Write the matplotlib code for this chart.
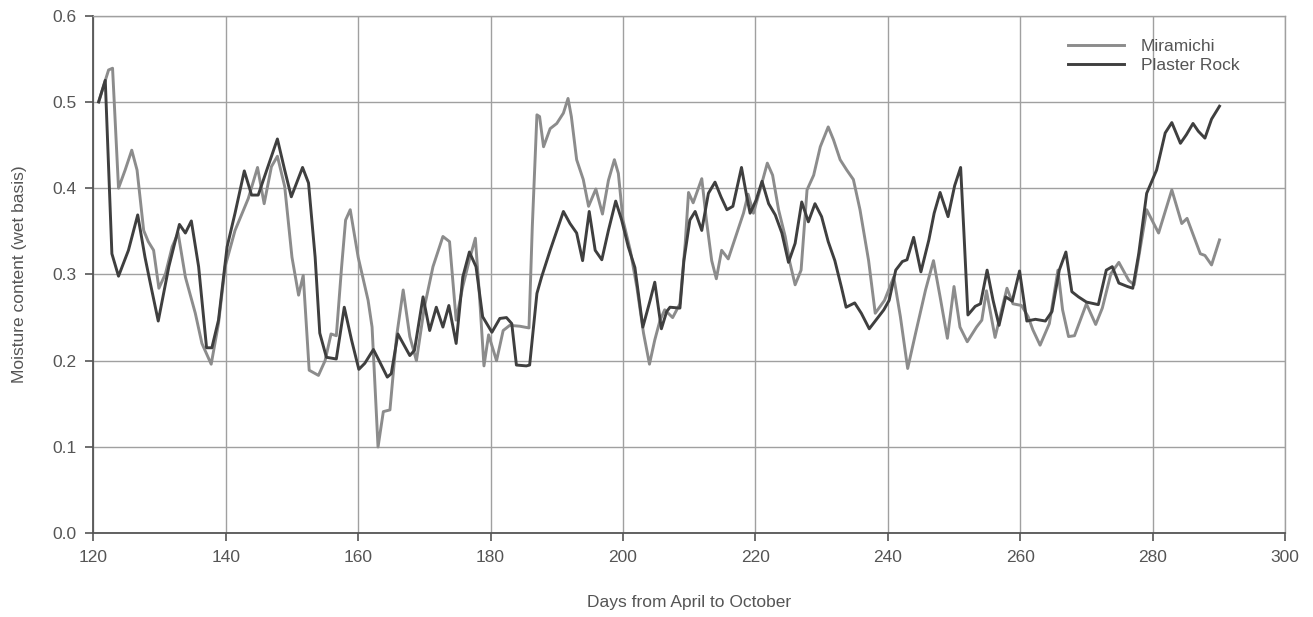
import numpy as np
import matplotlib
matplotlib.use('Agg')
from matplotlib import pyplot as plt
from matplotlib import font_manager

names = {f.name for f in font_manager.fontManager.ttflist}
narrow = 'Liberation Sans Narrow' in names
print('narrow installed:', narrow)
plt.rcParams['font.family'] = ['Liberation Sans Narrow', 'Liberation Sans', 'DejaVu Sans']

# Miramichi (light grey line)
mir_days = [120.8, 122.3, 122.9, 123.8, 124.8, 125.8, 126.6, 127.6, 128.3, 129.1,
            129.9, 130.9, 131.9, 132.8, 133.9, 135.4, 136.4, 137.8, 138.9, 139.9,
            141.4, 143.4, 144.8, 145.8, 146.9, 147.8, 148.9, 150.0, 151.0, 151.7,
            152.6, 154.0, 155.0, 155.9, 156.7, 157.5, 158.1, 158.8, 160.0, 161.5,
            162.1, 163.0, 163.8, 164.8, 165.8, 166.8, 167.8, 168.8, 170.0, 171.3,
            172.8, 173.8, 174.8, 175.8, 176.8, 177.7, 178.3, 179.0, 179.7, 180.9,
            181.9, 182.9, 184.4, 185.8, 186.3, 187.0, 187.4, 188.0, 189.0, 190.0,
            191.0, 191.7, 192.2, 193.0, 194.0, 194.8, 195.9, 196.9, 197.8, 198.7,
            199.3, 200.0, 201.1, 202.1, 203.1, 204.0, 204.8, 205.6, 206.3, 207.5,
            208.6, 209.4, 209.9, 210.6, 211.9, 212.6, 213.4, 214.1, 214.9, 215.9,
            217.2, 218.2, 218.9, 219.7, 220.7, 221.8, 222.6, 223.5, 224.5, 225.2,
            226.0, 226.9, 227.8, 228.8, 229.8, 231.0, 231.8, 232.8, 233.8, 234.8,
            235.8, 237.1, 238.1, 239.5, 240.9, 241.9, 243.0, 244.2, 245.7, 246.9,
            247.9, 249.0, 250.0, 250.9, 252.0, 253.4, 254.2, 254.9, 256.2, 257.2,
            258.0, 258.9, 260.2, 261.2, 261.9, 263.0, 264.4, 265.7, 266.4, 267.3,
            268.2, 270.0, 271.4, 272.4, 273.7, 274.9, 276.4, 277.2, 279.1, 280.9,
            282.9, 284.4, 285.2, 287.2, 287.9, 288.9, 290.1]
mir_vals = [0.500, 0.537, 0.539, 0.400, 0.421, 0.444, 0.421, 0.351, 0.338, 0.328,
            0.284, 0.301, 0.332, 0.348, 0.297, 0.255, 0.220, 0.196, 0.243, 0.309,
            0.351, 0.388, 0.424, 0.382, 0.425, 0.437, 0.402, 0.320, 0.276, 0.299,
            0.189, 0.183, 0.200, 0.231, 0.229, 0.309, 0.363, 0.375, 0.320, 0.270,
            0.239, 0.100, 0.141, 0.143, 0.228, 0.282, 0.228, 0.200, 0.262, 0.309,
            0.344, 0.338, 0.247, 0.286, 0.317, 0.342, 0.278, 0.194, 0.230, 0.200,
            0.235, 0.241, 0.240, 0.238, 0.355, 0.485, 0.483, 0.448, 0.469, 0.475,
            0.487, 0.504, 0.483, 0.433, 0.410, 0.379, 0.399, 0.370, 0.409, 0.433,
            0.417, 0.363, 0.328, 0.285, 0.232, 0.196, 0.224, 0.247, 0.259, 0.250,
            0.266, 0.336, 0.395, 0.383, 0.411, 0.363, 0.316, 0.295, 0.328, 0.318,
            0.348, 0.371, 0.393, 0.371, 0.398, 0.429, 0.415, 0.375, 0.344, 0.314,
            0.288, 0.305, 0.398, 0.415, 0.448, 0.471, 0.456, 0.433, 0.421, 0.410,
            0.375, 0.316, 0.255, 0.270, 0.297, 0.251, 0.191, 0.232, 0.282, 0.316,
            0.274, 0.226, 0.286, 0.239, 0.222, 0.239, 0.247, 0.281, 0.227, 0.259,
            0.284, 0.266, 0.264, 0.251, 0.236, 0.218, 0.243, 0.305, 0.259, 0.228,
            0.229, 0.266, 0.242, 0.261, 0.301, 0.314, 0.293, 0.288, 0.375, 0.348,
            0.398, 0.359, 0.365, 0.324, 0.322, 0.311, 0.340]

# Plaster Rock (dark grey line)
pr_days = [120.8, 121.8, 122.8, 123.8, 125.3, 126.7, 127.8, 128.6, 129.8, 131.4,
           133.0, 133.9, 134.8, 135.9, 137.1, 137.9, 138.9, 140.2, 141.4, 142.8,
           143.9, 144.9, 146.2, 147.8, 148.9, 149.9, 151.6, 152.5, 153.5, 154.2,
           155.2, 156.7, 157.9, 159.0, 160.1, 161.0, 162.3, 163.1, 164.4, 165.0,
           166.0, 167.8, 168.5, 169.8, 170.8, 171.8, 172.8, 173.7, 174.8, 175.8,
           176.8, 177.8, 178.8, 180.2, 181.4, 182.4, 183.2, 183.9, 185.4, 185.9,
           187.0, 187.7, 189.0, 191.0, 192.0, 193.0, 193.9, 194.9, 195.8, 196.8,
           197.8, 198.9, 199.8, 200.8, 201.8, 203.0, 204.1, 204.8, 205.8, 206.6,
           207.1, 208.6, 209.2, 210.1, 210.9, 211.9, 212.9, 213.9, 214.8, 215.7,
           216.6, 217.9, 218.7, 219.2, 220.1, 221.0, 222.0, 223.0, 224.0, 225.0,
           226.0, 227.0, 228.0, 229.0, 230.0, 231.0, 232.0, 233.0, 233.7, 235.0,
           236.0, 237.2, 238.4, 239.4, 240.2, 241.2, 242.2, 242.9, 243.9, 245.0,
           246.2, 247.0, 247.9, 249.1, 250.1, 251.0, 251.5, 252.1, 253.2, 254.0,
           255.0, 255.9, 256.8, 257.8, 258.8, 259.9, 261.0, 262.3, 263.8, 264.8,
           265.9, 266.9, 267.8, 268.8, 270.0, 271.8, 273.0, 273.9, 274.9, 276.2,
           277.0, 277.9, 279.1, 280.6, 281.9, 282.9, 284.2, 285.1, 286.1, 286.9,
           287.9, 288.9, 290.1]
pr_vals = [0.500, 0.525, 0.324, 0.298, 0.328, 0.369, 0.320, 0.290, 0.246, 0.309,
           0.358, 0.348, 0.362, 0.309, 0.215, 0.215, 0.247, 0.332, 0.371, 0.420,
           0.392, 0.392, 0.421, 0.457, 0.421, 0.390, 0.424, 0.406, 0.320, 0.232,
           0.204, 0.202, 0.262, 0.224, 0.190, 0.197, 0.213, 0.201, 0.181, 0.185,
           0.231, 0.206, 0.212, 0.274, 0.235, 0.262, 0.239, 0.264, 0.220, 0.297,
           0.326, 0.309, 0.251, 0.233, 0.249, 0.250, 0.243, 0.195, 0.194, 0.195,
           0.278, 0.297, 0.328, 0.373, 0.359, 0.348, 0.316, 0.373, 0.328, 0.317,
           0.351, 0.385, 0.363, 0.332, 0.308, 0.239, 0.270, 0.291, 0.237, 0.257,
           0.262, 0.261, 0.316, 0.363, 0.373, 0.351, 0.394, 0.407, 0.390, 0.375,
           0.379, 0.424, 0.390, 0.371, 0.386, 0.408, 0.382, 0.369, 0.348, 0.314,
           0.336, 0.384, 0.361, 0.382, 0.367, 0.338, 0.316, 0.285, 0.262, 0.267,
           0.255, 0.237, 0.249, 0.259, 0.270, 0.305, 0.315, 0.317, 0.343, 0.303,
           0.340, 0.371, 0.395, 0.367, 0.403, 0.424, 0.348, 0.253, 0.263, 0.266,
           0.305, 0.270, 0.241, 0.274, 0.269, 0.304, 0.246, 0.248, 0.246, 0.257,
           0.305, 0.326, 0.280, 0.274, 0.268, 0.265, 0.305, 0.309, 0.290, 0.286,
           0.284, 0.324, 0.394, 0.421, 0.464, 0.476, 0.452, 0.462, 0.475, 0.466,
           0.458, 0.480, 0.495]

xticks = [120, 140, 160, 180, 200, 220, 240, 260, 280, 300]
yticks = [0.0, 0.1, 0.2, 0.3, 0.4, 0.5, 0.6]

# narrow face needs a bigger size to match the reference text heights
fs = 14 if narrow else 12.5
fs_lab = 15 if narrow else 12.5

fig = plt.figure(figsize=(13.13, 6.17), dpi=100)
ax = fig.add_axes([0.0711, 0.1357, 0.9076, 0.839])

ax.plot(mir_days, mir_vals, color='#8c8c8c', lw=2.1, label='Miramichi',
        solid_joinstyle='round')
ax.plot(pr_days, pr_vals, color='#3f3f3f', lw=2.1, label='Plaster Rock',
        solid_joinstyle='round')

ax.set_xlim(120, 300)
ax.set_ylim(0, 0.6)
ax.set_xticks(xticks)
ax.set_yticks(yticks)
ax.set_yticklabels([f'{v:.1f}' for v in yticks])
ax.grid(True, color='#a0a0a0', lw=1.0)
ax.set_axisbelow(True)

for s in ['left', 'bottom']:
    ax.spines[s].set_color('#555555')
    ax.spines[s].set_linewidth(1.3)
for s in ['top', 'right']:
    ax.spines[s].set_color('#a0a0a0')
    ax.spines[s].set_linewidth(1.0)

ax.tick_params(direction='out', length=6, width=1.2, color='#555555',
               labelcolor='#555555', labelsize=fs, pad=6)

ax.set_xlabel('Days from April to October', fontsize=fs_lab, color='#555555', labelpad=22)
ax.set_ylabel('Moisture content (wet basis)', fontsize=fs_lab, color='#555555', labelpad=18)

leg = ax.legend(loc='upper right', frameon=False, fontsize=fs_lab,
                handlelength=3.2, handletextpad=1.0, labelspacing=0.2,
                bbox_to_anchor=(0.975, 0.985))
for t in leg.get_texts():
    t.set_color('#555555')

fig.savefig('out.png', dpi=100)
